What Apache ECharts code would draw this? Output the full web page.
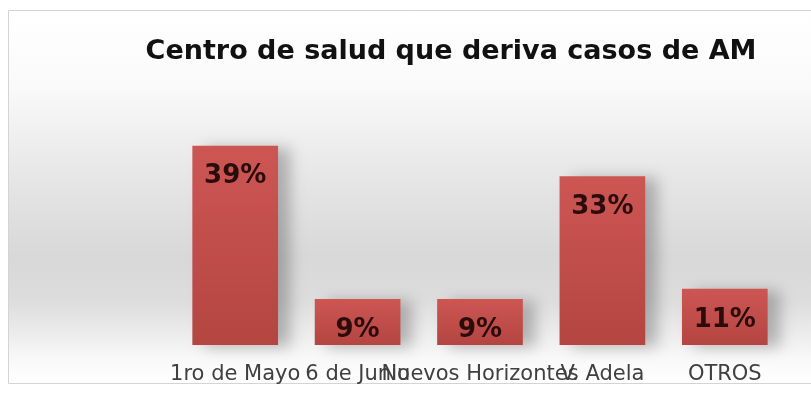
<!DOCTYPE html>
<html>
<head>
<meta charset="utf-8">
<script src="https://cdn.jsdelivr.net/npm/echarts@6/dist/echarts.min.js"></script>
<style>html,body{margin:0;padding:0;background:#fff}#c{width:811px;height:393px}</style>
</head>
<body>
<div id="c"></div>
<script>
const titleText = 'Centro de salud que deriva casos de AM';
const categories = ['1ro de Mayo', '6 de Junio', 'Nuevos Horizontes', 'V. Adela', 'OTROS'];
const values = [39, 9, 9, 33, 11];

const chart = echarts.init(document.getElementById('c'), null, {renderer: 'canvas'});
chart.setOption({
  animation: false,
  backgroundColor: '#ffffff',
  graphic: [{
    type: 'rect', z: -10, silent: true,
    shape: {x: 8.5, y: 10.5, width: 820, height: 373},
    style: {
      stroke: '#d4d4d4', lineWidth: 1,
      fill: {type: 'linear', x: 0, y: 0, x2: 0, y2: 1, colorStops: [
        {offset: 0, color: '#ffffff'},
        {offset: 0.2, color: '#fafafa'},
        {offset: 0.45, color: '#e6e6e6'},
        {offset: 0.66, color: '#d8d8d8'},
        {offset: 0.78, color: '#dddddd'},
        {offset: 0.93, color: '#f8f8f8'},
        {offset: 1, color: '#ffffff'}
      ]}
    }
  }],
  title: {
    text: titleText,
    left: 446, top: 33, textAlign: 'center',
    textStyle: {fontFamily: 'DejaVu Sans', fontWeight: 'bold', fontSize: 27, color: '#111111'}
  },
  grid: {left: 174, right: 25, top: 115, bottom: 48, containLabel: false},
  xAxis: {
    type: 'category', data: categories,
    axisLine: {show: false}, axisTick: {show: false}, splitLine: {show: false},
    axisLabel: {interval: 0, margin: 19, fontFamily: 'DejaVu Sans', fontSize: 21, color: '#404040'}
  },
  yAxis: {type: 'value', min: 0, max: 45, show: false, splitLine: {show: false}},
  series: [{
    type: 'bar', data: values, barWidth: '70%',
    itemStyle: {
      color: {type: 'linear', x: 0, y: 0, x2: 0, y2: 1, colorStops: [
        {offset: 0, color: '#cd5653'},
        {offset: 1, color: '#b44541'}
      ]},
      shadowColor: 'rgba(0,0,0,0.25)', shadowBlur: 14, shadowOffsetX: 12, shadowOffsetY: 2
    },
    label: {
      show: true, position: 'insideTop', distance: 18,
      formatter: '{c}%',
      fontFamily: 'DejaVu Sans', fontWeight: 'bold', fontSize: 26, color: '#2a0c0c'
    }
  }]
});
</script>
</body>
</html>
